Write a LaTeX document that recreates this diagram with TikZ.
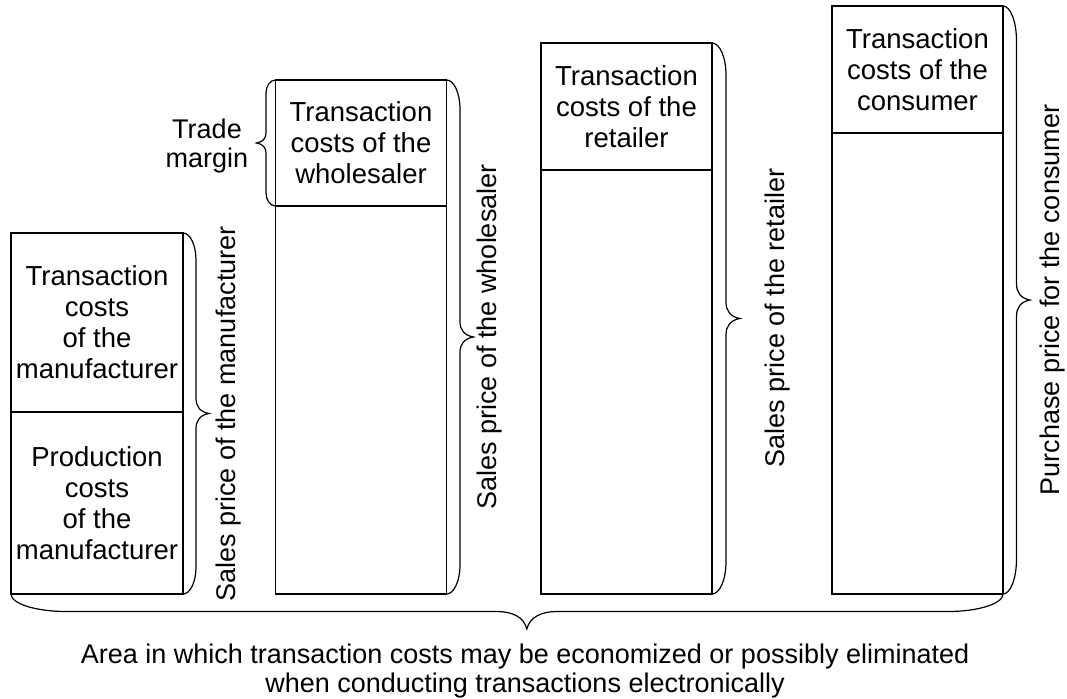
\documentclass[tikz,border=0pt]{standalone}
\usepackage{fontspec}
\setmainfont{Liberation Sans}
\usetikzlibrary{decorations.pathreplacing}
\newcommand\cellfont{\fontsize{27.5}{31}\selectfont}
\newcommand\notefont{\fontsize{27}{28.5}\selectfont}

% a curly brace whose end curls and middle curl have their own lengths
\newdimen\bendlen
\newdimen\bmidlen
\pgfkeys{/pgf/decoration/.cd,
  curl end/.code={\pgfmathsetlength\bendlen{#1}},
  curl mid/.code={\pgfmathsetlength\bmidlen{#1}}}
\pgfdeclaredecoration{softbrace}{brace}
{%
  \state{brace}[width=+\pgfdecoratedremainingdistance,next state=final]
  {%
    \pgfpathmoveto{\pgfpointorigin}%
    \pgfpathcurveto
      {\pgfqpoint{0pt}{.276\pgfdecorationsegmentamplitude}}%
      {\pgfqpoint{.448\bendlen}{.5\pgfdecorationsegmentamplitude}}%
      {\pgfqpoint{\bendlen}{.5\pgfdecorationsegmentamplitude}}%
    {%
      \pgftransformxshift{+\pgfdecorationsegmentaspect\pgfdecoratedremainingdistance}%
      \pgfpathlineto{\pgfqpoint{-\bmidlen}{.5\pgfdecorationsegmentamplitude}}%
      \pgfpathcurveto
        {\pgfqpoint{-.5\bmidlen}{.5\pgfdecorationsegmentamplitude}}%
        {\pgfqpoint{-.1\bmidlen}{.65\pgfdecorationsegmentamplitude}}%
        {\pgfqpoint{0pt}{\pgfdecorationsegmentamplitude}}%
      \pgfpathcurveto
        {\pgfqpoint{.1\bmidlen}{.65\pgfdecorationsegmentamplitude}}%
        {\pgfqpoint{.5\bmidlen}{.5\pgfdecorationsegmentamplitude}}%
        {\pgfqpoint{\bmidlen}{.5\pgfdecorationsegmentamplitude}}%
    }%
    {%
      \pgftransformxshift{+\pgfdecoratedremainingdistance}%
      \pgfpathlineto{\pgfqpoint{-\bendlen}{.5\pgfdecorationsegmentamplitude}}%
      \pgfpathcurveto
        {\pgfqpoint{-.448\bendlen}{.5\pgfdecorationsegmentamplitude}}%
        {\pgfqpoint{0pt}{.276\pgfdecorationsegmentamplitude}}%
        {\pgfqpoint{0pt}{0pt}}%
    }%
  }%
  \state{final}{}%
}

\begin{document}
\begin{tikzpicture}[x=1pt,y=-1pt,
  cell/.style={draw, line width=1.2pt, rectangle, inner sep=0pt, outer sep=0pt,
               align=center, font=\cellfont, minimum width=171pt},
  curly/.style n args={4}{decorate, line width=1.2pt,
               decoration={softbrace, amplitude=#1, curl end=#2, curl mid=#3, aspect=#4}},
  sidelabel/.style={rotate=90, font=\notefont, inner sep=0pt},
  note/.style={align=center, font=\notefont, inner sep=0pt}]
\useasboundingbox (0,0) rectangle (1067,698);

% manufacturer column
\node[cell, minimum width=172pt, minimum height=179pt] (mt) at (97,322.5)
  {Transaction\\costs\\of the\\manufacturer};
\node[cell, minimum width=172pt, minimum height=182pt] (mb) at (97,503)
  {Production\\costs\\of the\\manufacturer};

% wholesaler column
\node[cell, minimum height=126pt] (wt) at (361,143)
  {Transaction\\costs of the\\wholesaler};
\node[cell, minimum height=388pt] (wb) at (361,400) {};

% retailer column
\node[cell, minimum height=127pt] (rt) at (626.5,106.5)
  {Transaction\\costs of the\\retailer};
\node[cell, minimum height=424pt] (rb) at (626.5,382) {};

% consumer column
\node[cell, minimum height=127pt] (ct) at (917.5,69.5)
  {Transaction\\costs of the\\consumer};
\node[cell, minimum height=461pt] (cb) at (917.5,363.5) {};

% price braces on the right of each column
\draw[curly={26pt}{27pt}{15pt}{0.5}] (mt.north east) -- (mb.south east);
\draw[curly={27pt}{29pt}{15pt}{0.5}] (wt.north east) -- (wb.south east);
\draw[curly={28pt}{32pt}{16pt}{0.5}] (rt.north east) -- (rb.south east);
\draw[curly={27pt}{35pt}{16pt}{0.5}] (ct.north east) -- (cb.south east);

% trade margin brace
\draw[curly={19pt}{13pt}{10pt}{0.5}] (wt.south west) -- (wt.north west);
\node[note] (tm) at (207,146) {Trade\\margin};

% price labels
\node[sidelabel] (lm) at (229,414) {Sales price of the manufacturer};
\node[sidelabel] (lw) at (490,337) {Sales price of the wholesaler};
\node[sidelabel] (lr) at (778,318) {Sales price of the retailer};
\node[sidelabel] (lc) at (1053,300) {Purchase price for the consumer};

% area brace below all columns
\draw[curly={35pt}{55pt}{30pt}{0.48}] (cb.south east) -- (mb.south west);
\node[note] (area) at (525,671)
  {Area in which transaction costs may be economized or possibly eliminated\\
   when conducting transactions electronically};
\end{tikzpicture}
\end{document}
